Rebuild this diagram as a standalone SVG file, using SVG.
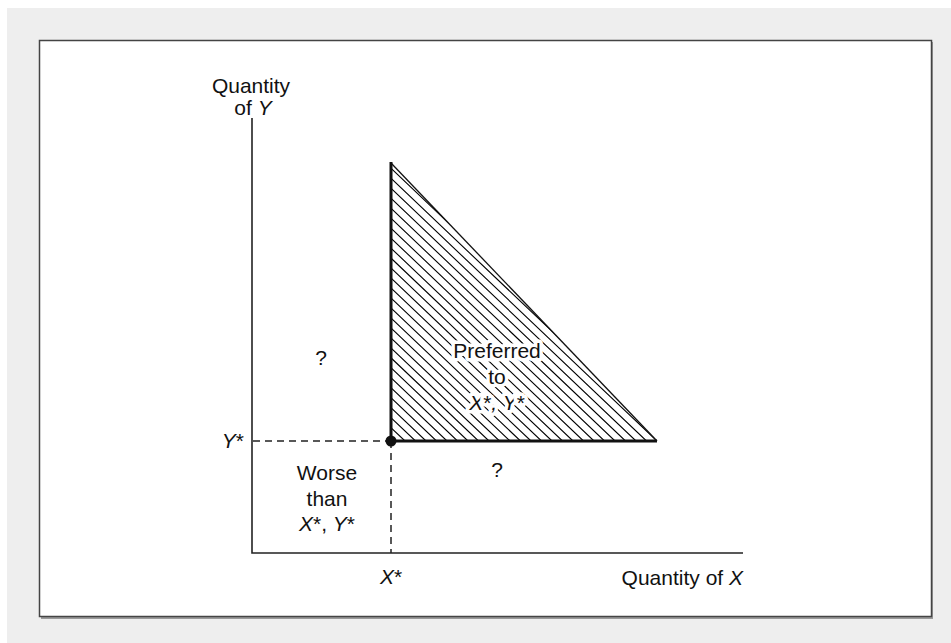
<svg xmlns="http://www.w3.org/2000/svg" width="951" height="643" viewBox="0 0 951 643">
<style>
text{font-family:"Liberation Sans",Arial,sans-serif;font-size:21px;fill:#111}
.c{text-anchor:middle}
.i{font-style:italic}
.halo{paint-order:stroke;stroke:#fff;stroke-width:7px;stroke-linejoin:round}
.axis{stroke:#222;stroke-width:1.6;fill:none}
.thick{stroke:#111;stroke-width:3;fill:none}
.dash{stroke:#222;stroke-width:1.5;stroke-dasharray:7 5;fill:none}
.hatch{stroke:#000;stroke-width:1.1;fill:none}
</style>
<defs>
<clipPath id="tri"><polygon points="391,163 657,441 391,441"/></clipPath>
</defs>
<rect x="7" y="8" width="944" height="635" fill="#eeeeee"/>
<rect x="41" y="42" width="892" height="577" fill="#9a9a9a"/>
<rect x="39.5" y="40.5" width="892" height="576" fill="#fff" stroke="#444" stroke-width="1.5"/>
<g id="connectors">
<polyline class="axis" points="252,118 252,553 743,553"/>
<line class="dash" x1="253" y1="441" x2="391" y2="441"/>
<line class="dash" x1="391" y1="441" x2="391" y2="553"/>
</g>
<g id="preferred-region">
<path class="hatch" clip-path="url(#tri)" d="M688.5,441 l-300,-285 M678,441 l-300,-285 M667.5,441 l-300,-285 M657,441 l-300,-285 M646.5,441 l-300,-285 M636,441 l-300,-285 M625.5,441 l-300,-285 M615,441 l-300,-285 M604.5,441 l-300,-285 M594,441 l-300,-285 M583.5,441 l-300,-285 M573,441 l-300,-285 M562.5,441 l-300,-285 M552,441 l-300,-285 M541.5,441 l-300,-285 M531,441 l-300,-285 M520.5,441 l-300,-285 M510,441 l-300,-285 M499.5,441 l-300,-285 M489,441 l-300,-285 M478.5,441 l-300,-285 M468,441 l-300,-285 M457.5,441 l-300,-285 M447,441 l-300,-285 M436.5,441 l-300,-285 M426,441 l-300,-285 M415.5,441 l-300,-285 M405,441 l-300,-285 M394.5,441 l-300,-285"/>
<line x1="391" y1="163" x2="657" y2="441" stroke="#111" stroke-width="1.3"/>
<polyline class="thick" points="391,162 391,441 657,441"/>
<text class="c halo" x="497" y="358">Preferred</text>
<text class="c halo" x="497" y="384">to</text>
<text class="c halo i" x="497" y="410">X<tspan font-style="normal">*</tspan>, Y<tspan font-style="normal">*</tspan></text>
</g>
<g id="point">
<circle cx="391" cy="441" r="5.5" fill="#111"/>
</g>
<g id="labels">
<text class="c" x="251" y="93">Quantity</text>
<text class="c" x="253" y="115">of <tspan class="i">Y</tspan></text>
<text x="244" y="448" text-anchor="end"><tspan class="i">Y</tspan>*</text>
<text class="c" x="391" y="584"><tspan class="i">X</tspan>*</text>
<text x="743" y="585" text-anchor="end">Quantity of <tspan class="i">X</tspan></text>
<text class="c" x="321" y="365">?</text>
<text class="c" x="497" y="477">?</text>
</g>
<g id="worse-region">
<text class="c" x="327" y="480">Worse</text>
<text class="c" x="327" y="506">than</text>
<text class="c" x="327" y="531"><tspan class="i">X</tspan>*, <tspan class="i">Y</tspan>*</text>
</g>
</svg>
